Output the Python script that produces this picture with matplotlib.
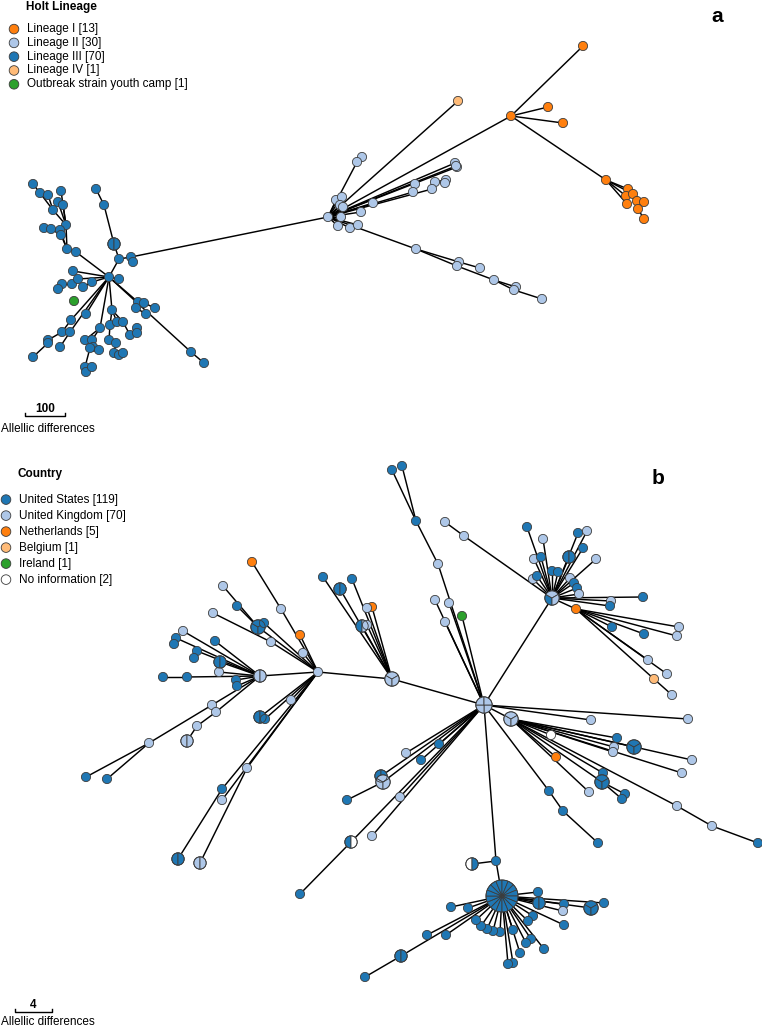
import matplotlib
matplotlib.use("Agg")
import matplotlib.pyplot as plt
from matplotlib.patches import Circle, Wedge

plt.rcParams['font.family'] = ['Liberation Sans', 'DejaVu Sans']

# ---------------- colours ----------------
lineage_colors = {'I': '#ff7f0e', 'II': '#aec7e8', 'III': '#1f77b4', 'IV': '#ffbb78', 'OB': '#2ca02c'}
country_colors = {'US': '#1f77b4', 'UK': '#aec7e8', 'NL': '#ff7f0e', 'BE': '#ffbb78', 'IE': '#2ca02c', 'NA': '#ffffff'}

# ---------------- legends ----------------
lineage_labels = ['Lineage I [13]', 'Lineage II [30]', 'Lineage III [70]', 'Lineage IV [1]',
                  'Outbreak strain youth camp [1]']
lineage_keys = ['I', 'II', 'III', 'IV', 'OB']
country_labels = ['United States [119]', 'United Kingdom [70]', 'Netherlands [5]', 'Belgium [1]',
                  'Ireland [1]', 'No information [2]']
country_keys = ['US', 'UK', 'NL', 'BE', 'IE', 'NA']

# ---------------- panel a: nodes (layout position, lineage, isolates) ----------------
a_x = [109, 33, 40, 48, 61, 58, 63, 53, 66, 44, 51, 60, 61, 67, 76, 96, 104, 114, 119, 131,
       133, 119, 73, 62, 58, 72, 78, 83, 92, 86, 71, 62, 70, 48, 48, 60, 33, 112, 110, 117,
       123, 100, 85, 92, 93, 99, 90, 109, 116, 130, 137, 137, 114, 119, 123, 85, 86, 92, 138, 136,
       144, 155, 146, 191, 204, 74,
       328, 362, 357, 336, 342, 340, 343, 341, 338, 350, 358, 361, 373, 415, 413, 435, 432, 446, 445, 455,
       457, 456, 416, 459, 457, 480, 494, 516, 514, 542,
       458,
       511, 583, 548, 563, 606, 628, 626, 633, 637, 644, 627, 638, 644]
a_y = [277, 184, 193, 195, 191, 202, 205, 210, 225, 228, 229, 230, 235, 249, 252, 189, 205, 244, 259, 257,
       262, 279, 271, 284, 289, 284, 279, 287, 282, 314, 320, 332, 332, 340, 343, 347, 357, 310, 325, 322,
       322, 328, 340, 340, 347, 350, 348, 340, 343, 335, 328, 333, 353, 355, 353, 367, 372, 367, 302, 308,
       303, 308, 314, 352, 363, 301,
       217, 157, 162, 200, 197, 205, 207, 217, 226, 228, 225, 212, 203, 184, 192, 182, 189, 180, 183, 163,
       167, 166, 249, 262, 266, 268, 280, 287, 290, 299,
       101,
       116, 46, 107, 123, 180, 189, 196, 194, 201, 202, 204, 209, 219]
a_lin = ['III'] * 65 + ['OB'] + ['II'] * 30 + ['IV'] + ['I'] * 13
a_n = [1] * len(a_x)
a_n[17] = 2

a_edges = [(0, 14), (14, 13), (13, 8), (8, 6), (8, 5), (8, 7), (8, 4), (7, 3), (7, 2), (2, 1),
           (13, 11), (13, 12), (12, 10), (10, 9),
           (0, 18), (18, 17), (17, 16), (16, 15), (18, 19), (19, 20), (0, 21),
           (0, 22), (0, 26), (26, 25), (25, 23), (23, 24), (0, 28), (28, 27),
           (0, 29), (0, 30), (30, 31), (31, 33), (33, 34), (34, 36), (0, 32), (32, 35),
           (0, 37), (37, 38), (37, 39), (37, 40), (38, 47), (47, 48), (48, 52), (52, 53), (52, 54),
           (40, 49), (49, 50), (50, 51), (0, 41), (41, 42), (41, 43), (43, 44), (44, 45), (44, 46),
           (46, 55), (55, 56), (55, 57),
           (0, 58), (58, 59), (58, 60), (60, 61), (59, 62), (0, 63), (63, 64),
           (19, 66), (66, 68), (68, 67), (66, 69), (66, 70), (66, 71), (66, 72), (66, 73), (66, 74),
           (66, 75), (66, 76), (66, 77), (66, 78), (66, 80), (80, 79), (66, 82), (82, 81), (81, 83),
           (81, 84), (66, 85), (66, 86), (66, 87), (66, 88), (88, 89), (88, 90), (89, 91), (90, 92),
           (92, 93), (92, 94), (94, 95), (66, 96), (66, 97),
           (97, 98), (97, 99), (97, 100), (97, 101), (101, 102), (101, 103), (101, 104), (104, 105),
           (104, 106), (101, 107), (105, 108), (108, 109)]

# ---------------- panel b: nodes (layout position, country composition) ----------------
b_x = [260, 318, 392, 484, 552, 252, 223, 237, 213, 281, 258, 264, 300, 271, 303,
       183, 176, 174, 197, 194, 215, 220, 219, 163, 187, 236, 237, 212, 216, 197, 187, 149, 86, 107,
       291, 260, 265, 247, 222, 222, 178, 200,
       323, 340, 352, 372, 367, 362, 367,
       392, 402, 416, 438, 449, 435, 445, 462, 445, 464,
       527, 543, 534, 541, 533, 537, 552, 558, 569, 578, 587, 583, 596, 570, 574, 577, 579, 643, 611, 610,
       576, 679, 677, 612, 644, 648, 667, 654, 672,
       591, 688, 511, 551, 617, 614, 613, 634, 692, 682, 556, 603, 602, 625, 622, 589, 677, 712, 758,
       549, 563, 598,
       406, 439, 421, 381, 383, 347, 400, 351, 372, 300,
       496, 472, 502, 538, 539, 564, 563, 591, 604, 564, 533, 528, 544, 531, 526, 520, 513, 508, 513,
       500, 493, 487, 481, 476, 468, 451, 446, 427, 401, 365]
b_y = [676, 672, 679, 705, 598, 562, 586, 606, 613, 609, 627, 623, 635, 642, 653,
       631, 638, 644, 651, 658, 641, 662, 672, 677, 677, 680, 686, 705, 712, 726, 741, 743, 777, 779,
       700, 717, 719, 768, 789, 800, 859, 863,
       577, 589, 579, 607, 608, 626, 625,
       470, 466, 521, 564, 603, 600, 622, 616, 522, 536,
       527, 539, 559, 557, 579, 576, 571, 572, 557, 533, 531, 548, 559, 578, 583, 588, 594, 597, 601, 606,
       609, 627, 636, 627, 634, 660, 674, 679, 695,
       720, 719, 719, 735, 738, 747, 752, 747, 760, 773, 757, 773, 782, 794, 799, 792, 806, 826, 843,
       791, 811, 843,
       753, 744, 760, 776, 782, 800, 797, 842, 836, 894,
       861, 864, 896, 892, 903, 904, 911, 908, 903, 925, 916, 921, 949, 939, 943, 953, 963, 964, 930,
       932, 931, 929, 926, 920, 908, 907, 935, 935, 956, 977]
b_comp = (
    [['UK', 'UK'], ['UK'], ['UK', 'UK', 'UK'], ['UK', 'UK', 'UK', 'UK'], ['US', 'UK', 'UK'],
     ['NL'], ['UK'], ['US'], ['UK'], ['UK'], ['US', 'US', 'US'], ['US'], ['NL'], ['UK'], ['UK'],
     ['UK'], ['US'], ['US'], ['US'], ['US'], ['US'], ['US', 'US'], ['UK'], ['US'], ['US'], ['US'],
     ['US'], ['UK'], ['UK'], ['UK'], ['UK', 'UK'], ['UK'], ['US'], ['US'],
     ['UK'], ['US', 'US'], ['US'], ['UK'], ['US'], ['UK'], ['US', 'US'], ['UK', 'UK'],
     ['US'], ['US', 'US'], ['US'], ['NL'], ['UK'], ['US', 'UK'], ['UK'],
     ['US'], ['US'], ['US'], ['UK'], ['UK'], ['UK'], ['UK'], ['IE'], ['UK'], ['UK'],
     ['US'], ['UK'], ['UK'], ['US'], ['UK'], ['US'], ['US'], ['US'], ['US', 'US'], ['US'], ['UK'],
     ['US'], ['UK'], ['UK'], ['US'], ['US'], ['UK'], ['US'], ['UK'], ['US'],
     ['NL'], ['UK'], ['UK'], ['US'], ['US'], ['UK'], ['UK'], ['BE'], ['UK'],
     ['UK'], ['UK'], ['UK', 'UK', 'UK'], ['NA'], ['US'], ['UK'], ['UK'], ['US', 'US', 'US'], ['UK'],
     ['UK'], ['NL'], ['US'], ['US', 'US', 'US'], ['US'], ['US'], ['UK'], ['UK'], ['UK'], ['US'],
     ['US'], ['US'], ['US'],
     ['UK'], ['US'], ['US'], ['US', 'US'], ['UK', 'UK', 'UK'], ['US'], ['UK'], ['US', 'NA'], ['UK'], ['US'],
     ['US'], ['NA', 'US'], ['US'] * 16, ['US'], ['US', 'US'], ['US'], ['UK'], ['US', 'US', 'US'], ['US'],
     ['US'], ['US'], ['US'], ['US'], ['US'], ['US'], ['US'], ['US'], ['US'], ['US'], ['US'],
     ['US'], ['US'], ['US'], ['US'], ['US'], ['US'], ['US'], ['US'], ['US', 'US'], ['US']])

b_edges = [(0, 1), (1, 2), (2, 3), (3, 4),
           (1, 9), (9, 5), (1, 10), (10, 6), (10, 7), (1, 11), (1, 12), (1, 13), (13, 8), (1, 14),
           (0, 15), (0, 16), (16, 17), (0, 18), (18, 19), (0, 20), (0, 21), (0, 22), (0, 24), (24, 23),
           (0, 25), (0, 26), (0, 27), (27, 31), (31, 32), (31, 33), (0, 28), (28, 29), (29, 30),
           (1, 34), (1, 35), (1, 36), (1, 37), (37, 41), (1, 39), (1, 38), (38, 40),
           (2, 42), (2, 43), (2, 44), (2, 45), (2, 46), (2, 47), (2, 48),
           (51, 49), (51, 50), (52, 51), (3, 52), (3, 53), (3, 54), (3, 55), (3, 56), (57, 58), (58, 4),
           (4, 59), (4, 60), (4, 61), (4, 62), (4, 63), (4, 64), (4, 65), (4, 66), (4, 67), (4, 68),
           (4, 69), (4, 70), (4, 71), (4, 72), (4, 73), (4, 74), (4, 75), (4, 76), (4, 77), (4, 78),
           (4, 79), (79, 80), (79, 81), (79, 82), (79, 83), (79, 84), (79, 85), (79, 86), (86, 87),
           (3, 88), (3, 89), (3, 90), (90, 91), (90, 92), (90, 93), (90, 94), (90, 95), (90, 96), (90, 97),
           (90, 98), (90, 99), (90, 100), (100, 101), (100, 102), (90, 103), (90, 104), (104, 105),
           (105, 106), (3, 107), (107, 108), (108, 109),
           (3, 110), (3, 111), (3, 112), (3, 113), (3, 114), (114, 115), (3, 116), (3, 117), (117, 119),
           (3, 118),
           (3, 120), (120, 121), (120, 122)] + [(122, k) for k in range(123, 148)] + \
          [(122, 148), (148, 149)]

# ---------------- drawing helpers ----------------
EDGE_C = '#3c3c3c'


def radius(n):
    if n >= 10:
        return 16
    return {1: 4.6, 2: 6.2, 3: 7.2, 4: 8.2}.get(n, 8.5)


def draw_node(ax, x, y, colors):
    n = len(colors)
    r = radius(n)
    if n == 1:
        ax.add_patch(Circle((x, y), r, facecolor=colors[0], edgecolor=EDGE_C, lw=0.6, zorder=3))
        return
    start = 0 if n == 4 else 90
    step = 360.0 / n
    for i, c in enumerate(colors):
        t1 = start + i * step
        ax.add_patch(Wedge((x, y), r, t1, t1 + step, facecolor=c, edgecolor=EDGE_C, lw=0.6, zorder=3))
    ax.add_patch(Circle((x, y), r, facecolor='none', edgecolor=EDGE_C, lw=0.6, zorder=4))


def draw_edges(ax, xs, ys, edges):
    for s, d in edges:
        ax.plot([xs[s], xs[d]], [ys[s], ys[d]], color='black', lw=1.05, zorder=2,
                solid_capstyle='round')


def legend(ax, x0, y0, title, labels, colors, dy):
    ax.text(x0 + 12, y0, title, fontsize=8.5, fontweight='bold', va='center', ha='left')
    for i, (lab, c) in enumerate(zip(labels, colors)):
        y = y0 + dy * (i + 1.6)
        ax.add_patch(Circle((x0, y), 4.8, facecolor=c, edgecolor=EDGE_C, lw=0.6, zorder=3))
        ax.text(x0 + 13, y, lab, fontsize=8.5, va='center', ha='left')


def scalebar(ax, x0, x1, y, label, ty):
    ax.plot([x0, x0, x1, x1], [y - 3, y, y, y - 3], color='black', lw=1.0)
    ax.text((x0 + x1) / 2, y - 7, label, fontsize=8.5, fontweight='bold', ha='center', va='center')
    ax.text(1, ty, 'Allellic differences', fontsize=8.5, ha='left', va='center')


# ---------------- figure ----------------
fig = plt.figure(figsize=(7.62, 10.28), dpi=100)
ax = fig.add_axes([0, 0, 1, 1])
ax.set_xlim(0, 762)
ax.set_ylim(1028, 0)
ax.set_aspect('equal')
ax.axis('off')

# panel a
draw_edges(ax, a_x, a_y, a_edges)
for x, y, lin, n in zip(a_x, a_y, a_lin, a_n):
    draw_node(ax, x, y, [lineage_colors[lin]] * n)
legend(ax, 14, 7, 'Holt Lineage', lineage_labels, [lineage_colors[k] for k in lineage_keys], 13.8)
ax.text(717, 17, 'a', fontsize=15, fontweight='bold', ha='center', va='center')
scalebar(ax, 25, 65, 416, '100', 429)

# panel b
draw_edges(ax, b_x, b_y, b_edges)
for x, y, comp in zip(b_x, b_y, b_comp):
    draw_node(ax, x, y, [country_colors[c] for c in comp])
legend(ax, 6, 474, 'Country', country_labels, [country_colors[k] for k in country_keys], 16)
ax.text(658, 479, 'b', fontsize=15, fontweight='bold', ha='center', va='center')
scalebar(ax, 15, 52, 1012, '4', 1022)

fig.savefig('out.png', dpi=100)
